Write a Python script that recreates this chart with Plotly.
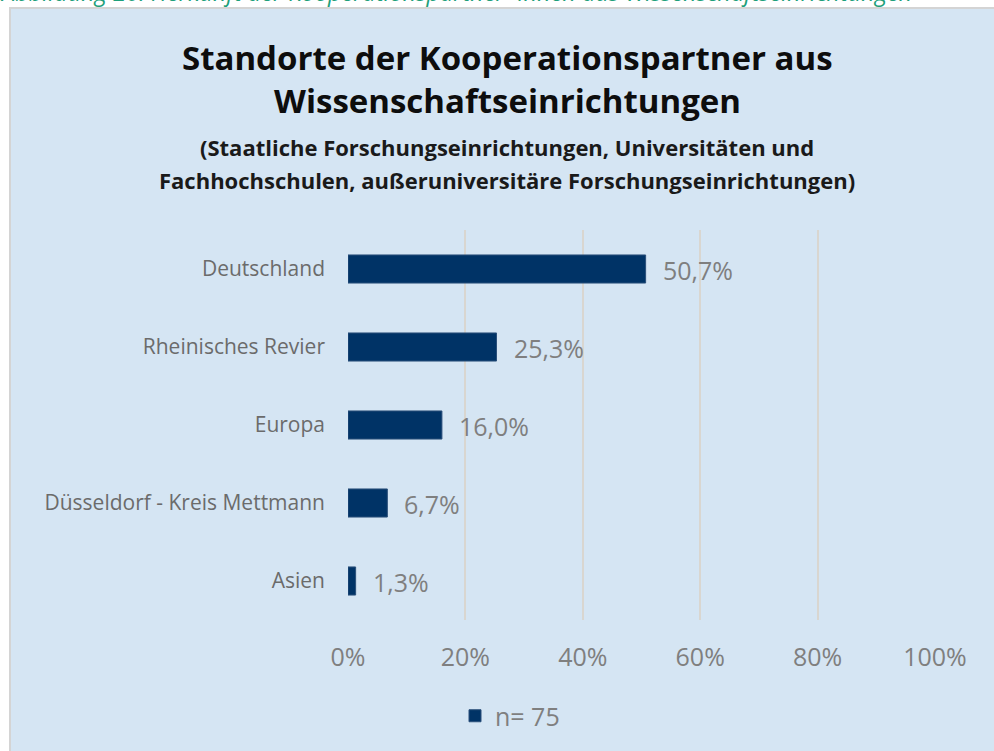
import plotly.graph_objects as go

categories = ["Deutschland", "Rheinisches Revier", "Europa", "Düsseldorf - Kreis Mettmann", "Asien"]
values = [50.7, 25.3, 16.0, 6.7, 1.3]
value_labels = ["50,7%", "25,3%", "16,0%", "6,7%", "1,3%"]
x_ticks = [0, 20, 40, 60, 80, 100]
x_tick_labels = ["0%", "20%", "40%", "60%", "80%", "100%"]
legend_name = "n= 75"

W, H = 994, 751
L, R, T, B = 348, 59, 230, 131
PW, PH = W - L - R, H - T - B

def px(x):
    return (x - L) / PW

def py(y):
    return (H - B - y) / PH

FONT = "Open Sans"
BAR = "#003366"
GRAY = "#7f7f7f"
LABEL_GRAY = "#6b6b6b"

fig = go.Figure()
fig.add_trace(go.Bar(
    x=values, y=categories, orientation="h", name=legend_name,
    marker=dict(color=BAR, line=dict(color="#2a4f7a", width=1)),
    width=0.36, showlegend=True, hoverinfo="skip",
))

for v, c, t in zip(values, categories, value_labels):
    fig.add_annotation(x=v, y=c, xref="x", yref="y", text=t, showarrow=False,
                       xanchor="left", xshift=15, yshift=-1,
                       font=dict(family=FONT, size=25, color=GRAY))

# chart box
fig.add_shape(type="rect", xref="paper", yref="paper",
              x0=px(10), x1=px(1005), y0=py(765), y1=py(8),
              fillcolor="#d5e5f3", line=dict(color="#d4d4d4", width=2), layer="below")

# caption (cut off at top, as in the reference)
fig.add_annotation(xref="paper", yref="paper", x=px(-2), y=py(-8), xanchor="left", yanchor="middle",
                   text="<i>Abbildung 20: Herkunft der Kooperationspartner*innen aus Wissenschaftseinrichtungen</i>",
                   showarrow=False, font=dict(family=FONT, size=23.5, color="#1f9f7a"))

# titles
fig.add_annotation(xref="paper", yref="paper", x=px(507), y=py(57), xanchor="center", yanchor="middle",
                   text="<b>Standorte der Kooperationspartner aus</b>", showarrow=False,
                   font=dict(family=FONT, size=33, color="#0d0d0d"))
fig.add_annotation(xref="paper", yref="paper", x=px(507), y=py(100), xanchor="center", yanchor="middle",
                   text="<b>Wissenschaftseinrichtungen</b>", showarrow=False,
                   font=dict(family=FONT, size=33, color="#0d0d0d"))
fig.add_annotation(xref="paper", yref="paper", x=px(507), y=py(147), xanchor="center", yanchor="middle",
                   text="<b>(Staatliche Forschungseinrichtungen, Universitäten und</b>", showarrow=False,
                   font=dict(family=FONT, size=22, color="#1a1a1a"))
fig.add_annotation(xref="paper", yref="paper", x=px(507), y=py(180), xanchor="center", yanchor="middle",
                   text="<b>Fachhochschulen, außeruniversitäre Forschungseinrichtungen)</b>", showarrow=False,
                   font=dict(family=FONT, size=22, color="#1a1a1a"))

fig.update_layout(
    width=W, height=H,
    margin=dict(l=L, r=R, t=T, b=B, pad=0),
    paper_bgcolor="white", plot_bgcolor="rgba(0,0,0,0)",
    font=dict(family=FONT),
    showlegend=True,
    legend=dict(orientation="h", x=px(510), y=py(716), xanchor="center", yanchor="middle",
                font=dict(family=FONT, size=25, color=GRAY), bgcolor="rgba(0,0,0,0)",
                itemwidth=30),
)
fig.update_xaxes(range=[0, 100], tickvals=x_ticks, ticktext=x_tick_labels,
                 showgrid=True, gridcolor="#d9d6d0", gridwidth=2, zeroline=False,
                 showline=False, ticks="", ticklabelstandoff=20,
                 tickfont=dict(family=FONT, size=25, color=GRAY), fixedrange=True)
fig.update_yaxes(categoryorder="array", categoryarray=categories, autorange="reversed",
                 showgrid=False, zeroline=False, showline=False, ticks="",
                 ticklabelstandoff=22,
                 tickfont=dict(family=FONT, size=21, color=LABEL_GRAY), fixedrange=True)

fig.write_html("out.html", config={"displayModeBar": False},
               post_script="document.body.style.margin='0';")
